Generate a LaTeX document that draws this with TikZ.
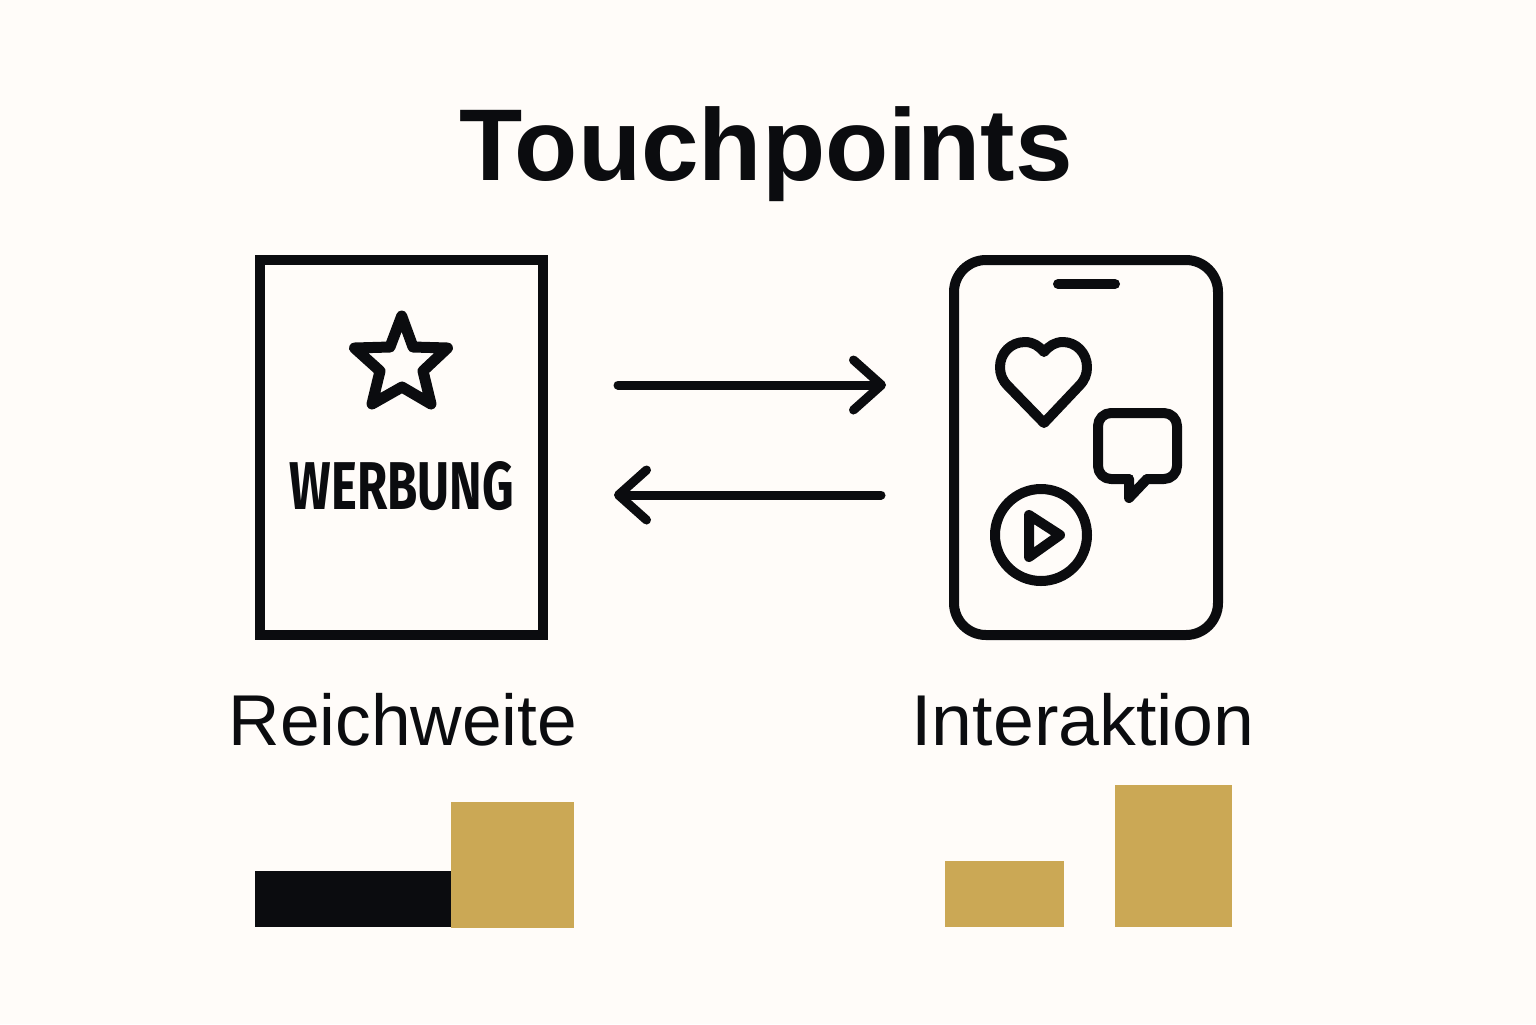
\documentclass[tikz,border=0pt]{standalone}
\usepackage{fontspec}
\usepackage{graphicx}
\setmainfont{Liberation Sans}
\newfontfamily\posterfont{Fira Sans}
\usetikzlibrary{arrows.meta}
\definecolor{ink}{HTML}{0B0C0F}
\definecolor{gold}{HTML}{CBA855}
\definecolor{paper}{HTML}{FFFCF9}
\tikzset{
  x=0.5pt,y=-0.5pt,
  icon/.style={draw=ink,line width=5pt,line join=round,line cap=round},
  frame/.style={draw=ink,line width=5pt,minimum width=141.5pt,minimum height=187.5pt,inner sep=0pt},
  barbar/.style={fill=#1,draw=none},
  link/.style={draw=ink,line width=4.5pt,line cap=round,-{Straight Barb[round,length=14pt,width=25pt]}},
  label/.style={anchor=base,text=ink,inner sep=0pt,font=\fontsize{36pt}{40pt}\selectfont},
}
\begin{document}
\begin{tikzpicture}
\useasboundingbox (0,0) rectangle (1536,1024);
\fill[paper] (0,0) rectangle (1536,1024);
\node[anchor=base,text=ink,inner sep=0pt,xscale=1.015,font=\fontsize{51pt}{54pt}\selectfont\bfseries] (title) at (766,180) {Touchpoints};

% poster
\node[frame] (poster) at (401.5,447.5) {};
\draw[icon,line width=5.5pt] (401.7,316) -- (413,347) -- (447.5,348) -- (423,371) -- (431,404) -- (402,387) -- (372,404) -- (380,371) -- (354.5,348) -- (390,347) -- cycle;
\node[anchor=base,inner sep=0pt,text=ink] (werbung) at (402,509) {\resizebox{112pt}{24pt}{\posterfont\bfseries WERBUNG}};

% phone
\node[frame,rounded corners=16pt,minimum width=132pt] (phone) at (1086,447.5) {};
\draw[icon] (1058,284) -- (1115,284);
\draw[icon] (1044,423) -- (1008,386) .. controls (1002,380) and (1000,374) .. (1000,367) .. controls (1000,353) and (1011,342) .. (1025,342) .. controls (1033,342) and (1039,346) .. (1044,352) .. controls (1049,346) and (1055,342) .. (1063,342) .. controls (1076,342) and (1087,353) .. (1087,367) .. controls (1087,374) and (1085,380) .. (1079,386) -- cycle;
\draw[icon,rounded corners=6.5pt] (1129,479) -- (1098,479) -- (1098,413) -- (1177,413) -- (1177,479) -- (1147,479);
\draw[icon] (1147,479) -- (1129,498) -- (1129,479);
\draw[icon] (1041,535) circle[radius=23pt];
\draw[icon] (1029,515) -- (1060,535) -- (1029,557) -- cycle;

% arrows
\coordinate (a1s) at (618,385);
\coordinate (a1e) at (886,385);
\coordinate (a2s) at (881,495);
\coordinate (a2e) at (614,495);
\draw[link] (a1s) -- (a1e);
\draw[link] (a2s) -- (a2e);

% labels
\node[label,xscale=0.99] (reich) at (403,745) {Reichweite};
\node[label,xscale=1.02] (inter) at (1083,745) {Interaktion};

% bars
\fill[barbar=ink] (255,871) rectangle (452,927);
\fill[barbar=gold] (451,802) rectangle (574,928);
\fill[barbar=gold] (945,861) rectangle (1064,927);
\fill[barbar=gold] (1115,785) rectangle (1232,927);
\end{tikzpicture}
\end{document}
